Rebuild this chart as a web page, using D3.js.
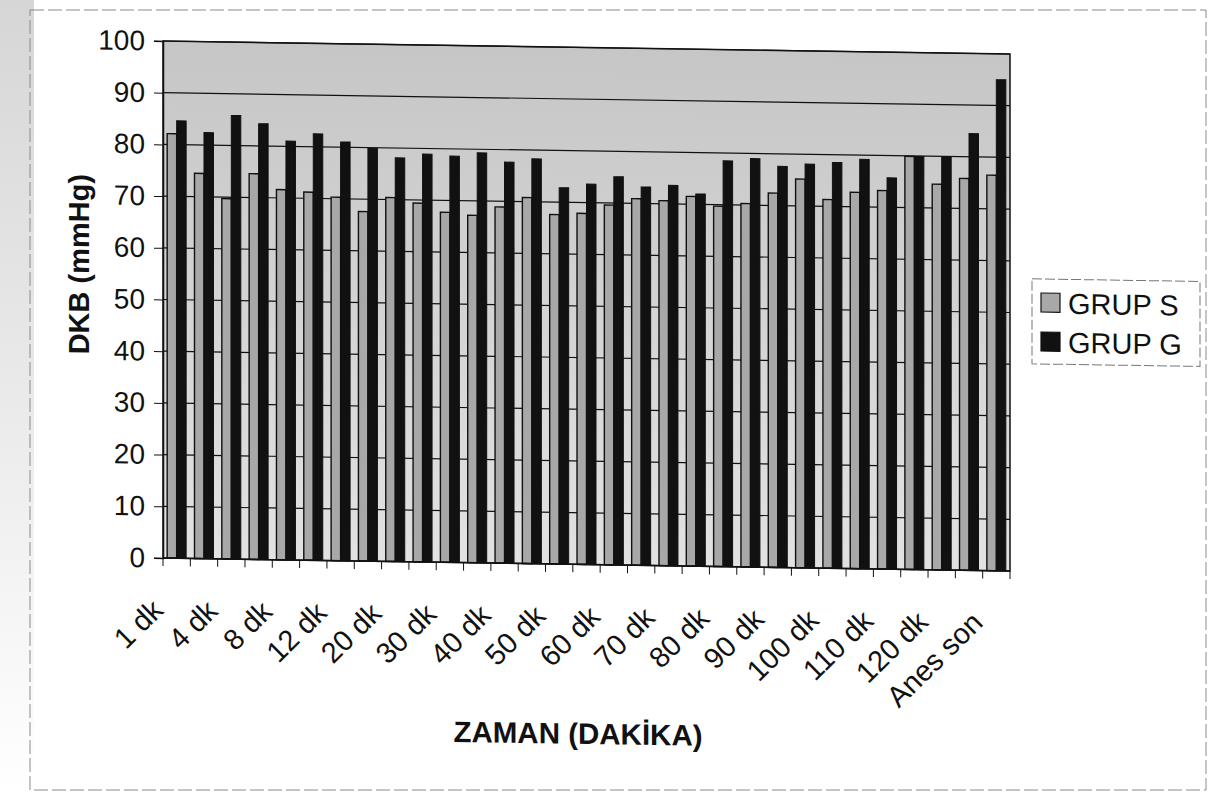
<!DOCTYPE html>
<html>
<head>
<meta charset="utf-8">
<script src="https://cdn.jsdelivr.net/npm/d3@7"></script>
<style>
  body { margin: 0; background: #fff; }
  svg { display: block; font-family: "Liberation Sans", Arial, sans-serif; }
</style>
</head>
<body>
<svg id="chart" width="1215" height="793"></svg>
<script>
// category labels (only every other one is printed on the axis)
const categories = ["1 dk", "2 dk", "4 dk", "6 dk", "8 dk", "10 dk", "12 dk", "15 dk", "20 dk", "25 dk",
    "30 dk", "35 dk", "40 dk", "45 dk", "50 dk", "55 dk", "60 dk", "65 dk", "70 dk", "75 dk",
    "80 dk", "85 dk", "90 dk", "95 dk", "100 dk", "105 dk", "110 dk", "115 dk", "120 dk", "130 dk", "Anes son"];
const seriesNames = ["GRUP S", "GRUP G"];
const grupS = [82.1, 74.5, 69.7, 74.6, 71.6, 71.2, 70.3, 67.6, 70.4, 69.4,
    67.7, 67.2, 68.9, 70.8, 67.6, 67.9, 69.6, 70.9, 70.6, 71.5,
    69.7, 70.3, 72.4, 75.2, 71.3, 72.8, 73.2, 79.9, 74.6, 75.8, 76.5];
const grupG = [84.6, 82.4, 85.8, 84.3, 81.0, 82.5, 81.0, 79.9, 78.1, 78.9,
    78.6, 79.3, 77.6, 78.3, 72.8, 73.6, 75.1, 73.2, 73.6, 72.0,
    78.5, 79.0, 77.6, 78.1, 78.5, 79.2, 75.7, 79.9, 79.9, 84.5, 95.0];
const yTicks = [0, 10, 20, 30, 40, 50, 60, 70, 80, 90, 100];

const fillS = '#a8a8a8';
const fillG = '#111';

const svg = d3.select("#chart");

// the scan is a little skewed: right side sits lower
const skewDeg = 0.88;
const tanK = Math.tan(skewDeg * Math.PI / 180);

const defs = svg.append("defs");
const grad = defs.append("linearGradient").attr("id", "plotBg")
    .attr("x1", 0).attr("y1", 0).attr("x2", 0).attr("y2", 1);
grad.append("stop").attr("offset", "0%").attr("stop-color", "#c6c6c6");
grad.append("stop").attr("offset", "45%").attr("stop-color", "#d2d2d2");
grad.append("stop").attr("offset", "100%").attr("stop-color", "#e2e2e2");

const edge = defs.append("linearGradient").attr("id", "edgeBg")
    .attr("x1", 0).attr("y1", 0).attr("x2", 0).attr("y2", 1);
edge.append("stop").attr("offset", "0%").attr("stop-color", "#d6d6d6");
edge.append("stop").attr("offset", "55%").attr("stop-color", "#ececec");
edge.append("stop").attr("offset", "100%").attr("stop-color", "#fff");

// scan edge on the left + faint outer frame
svg.append("rect").attr("x", 0).attr("y", 0).attr("width", 34).attr("height", 793)
    .attr("fill", "url(#edgeBg)");
svg.append("rect").attr("x", 30).attr("y", 10).attr("width", 1176).attr("height", 780)
    .attr("fill", "none").attr("stroke", "#8a8a8a").attr("stroke-width", 1)
    .attr("stroke-dasharray", "14,4");

const g = svg.append("g")
    .attr("transform", `translate(0,${-tanK * 586}) skewY(${skewDeg})`);

const margin = {left: 163, right: 1010, top: 47.5, bottom: 564.5};

const x0 = d3.scaleBand().domain(categories).range([margin.left, margin.right]).padding(0);
const x1 = d3.scaleBand().domain(seriesNames).range([0, x0.bandwidth()])
    .paddingInner(0).paddingOuter(0.44);
const y = d3.scaleLinear().domain([0, 100]).range([margin.bottom, margin.top]);

// plot area
g.append("rect")
    .attr("x", margin.left).attr("y", margin.top)
    .attr("width", margin.right - margin.left).attr("height", margin.bottom - margin.top)
    .attr("fill", "url(#plotBg)");

// gridlines
g.append("g").selectAll("line").data(yTicks.slice(1)).join("line")
    .attr("x1", margin.left).attr("x2", margin.right)
    .attr("y1", d => y(d)).attr("y2", d => y(d))
    .attr("stroke", "#111").attr("stroke-width", 1.2);

// bars
const groups = g.append("g").selectAll("g").data(categories).join("g")
    .attr("transform", d => `translate(${x0(d)},0)`);

groups.append("rect")
    .attr("x", x1("GRUP S"))
    .attr("y", (d, i) => y(grupS[i]))
    .attr("width", x1.bandwidth())
    .attr("height", (d, i) => y(0) - y(grupS[i]))
    .attr("fill", fillS).attr("stroke", "#111").attr("stroke-width", 1.4);

groups.append("rect")
    .attr("x", x1("GRUP G"))
    .attr("y", (d, i) => y(grupG[i]))
    .attr("width", x1.bandwidth())
    .attr("height", (d, i) => y(0) - y(grupG[i]))
    .attr("fill", fillG).attr("stroke", "#111").attr("stroke-width", 1);

// plot border
g.append("rect")
    .attr("x", margin.left).attr("y", margin.top)
    .attr("width", margin.right - margin.left).attr("height", margin.bottom - margin.top)
    .attr("fill", "none").attr("stroke", "#111").attr("stroke-width", 1.5);

// y axis
const yAxis = g.append("g")
    .attr("transform", `translate(${margin.left},0)`)
    .call(d3.axisLeft(y).tickValues(yTicks).tickSize(9).tickPadding(9));
yAxis.select(".domain").attr("stroke", "#111").attr("stroke-width", 1.5);
yAxis.selectAll(".tick line").attr("stroke", "#111");
yAxis.selectAll(".tick text")
    .attr("font-size", 28).attr("fill", "#111")
    .attr("font-family", "Liberation Sans, Arial, sans-serif");

// x axis: ticks between categories, labels every other category
const xAxis = g.append("g").attr("transform", `translate(0,${margin.bottom})`);
xAxis.append("line")
    .attr("x1", margin.left).attr("x2", margin.right)
    .attr("stroke", "#111").attr("stroke-width", 1.5);
xAxis.selectAll("line.tk").data(categories.concat([null])).join("line")
    .attr("class", "tk")
    .attr("x1", (d, i) => margin.left + i * x0.step())
    .attr("x2", (d, i) => margin.left + i * x0.step())
    .attr("y1", 0).attr("y2", 8)
    .attr("stroke", "#111");

xAxis.selectAll("text").data(categories.filter((d, i) => i % 2 === 0)).join("text")
    .attr("transform", d => `translate(${x0(d) + x0.bandwidth() / 2 - 12},54) rotate(-45)`)
    .attr("text-anchor", "end")
    .attr("font-size", 29).attr("fill", "#111")
    .text(d => d);

// axis titles
g.append("text")
    .attr("transform", "translate(89,272) rotate(-90)")
    .attr("text-anchor", "middle")
    .attr("font-size", 29).attr("font-weight", "bold").attr("fill", "#111")
    .text("DKB (mmHg)");

g.append("text")
    .attr("x", 578).attr("y", 744)
    .attr("text-anchor", "middle")
    .attr("font-size", 29.5).attr("font-weight", "bold").attr("fill", "#111")
    .text("ZAMAN (DAKİKA)");

// legend
const legend = g.append("g");
legend.append("rect")
    .attr("x", 1032).attr("y", 272).attr("width", 168).attr("height", 85)
    .attr("fill", "#fff").attr("stroke", "#777").attr("stroke-width", 1)
    .attr("stroke-dasharray", "10,3");
const legendFills = [fillS, fillG];
const li = legend.selectAll("g.item").data(seriesNames).join("g")
    .attr("class", "item")
    .attr("transform", (d, i) => `translate(1041,${296 + i * 39})`);
li.append("rect")
    .attr("x", 0).attr("y", -10).attr("width", 19).attr("height", 19)
    .attr("fill", (d, i) => legendFills[i]).attr("stroke", "#111").attr("stroke-width", 1.2);
li.append("text")
    .attr("x", 27).attr("y", 0).attr("dy", "0.36em")
    .attr("font-size", 29).attr("fill", "#111")
    .text(d => d);
</script>
</body>
</html>
